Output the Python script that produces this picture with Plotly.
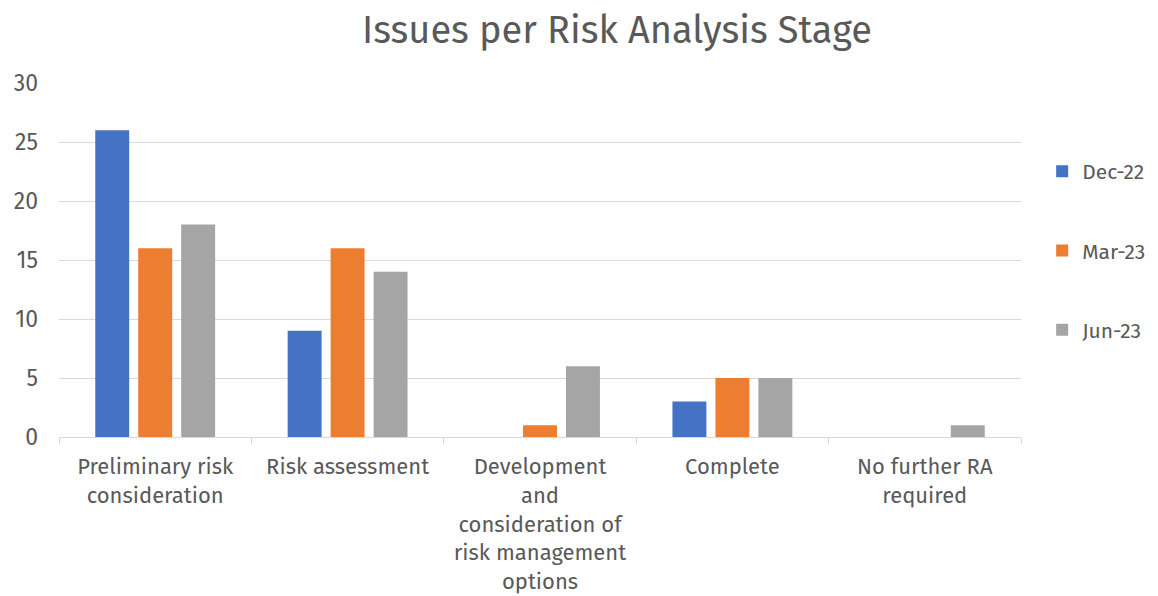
import plotly.graph_objects as go

categories = [
    "Preliminary risk<br>consideration",
    "Risk assessment",
    "Development<br>and<br>consideration of<br>risk management<br>options",
    "Complete",
    "No further RA<br>required",
]
dec22 = [26, 9, 0, 3, 0]
mar23 = [16, 16, 1, 5, 0]
jun23 = [18, 14, 6, 5, 1]
series_names = ["Dec-22", "Mar-23", "Jun-23"]
colors = ["#4472C4", "#ED7D31", "#A5A5A5"]

FONT = "Fira Sans, Open Sans, Noto Sans, sans-serif"
TXT = "#595959"

fig = go.Figure()
for i, (name, vals) in enumerate(zip(series_names, [dec22, mar23, jun23])):
    fig.add_trace(go.Bar(
        x=categories, y=vals, name=name, marker_color=colors[i],
        marker_line_width=0, legendgroup=name,
    ))

fig.update_layout(
    width=1158, height=596,
    paper_bgcolor="white", plot_bgcolor="white",
    margin=dict(l=51, r=145, t=75, b=167, autoexpand=False),
    barmode="group", bargap=0.33, bargroupgap=0.21,
    font=dict(family=FONT, color=TXT, size=22),
    title=dict(text="Issues per Risk Analysis Stage", x=609/1158, xanchor="center",
               y=1 - 22/596, yanchor="middle", font=dict(size=38, color=TXT, family=FONT)),
    legend=dict(x=1.022, xanchor="left", y=1 - 143/596, yref="container", yanchor="top",
                font=dict(size=21, color=TXT), tracegroupgap=49, itemwidth=30),
    showlegend=True,
)
fig.update_xaxes(
    showgrid=False, showline=True, linecolor="#D9D9D9", linewidth=1,
    ticks="outside", tickson="boundaries", ticklen=6, tickcolor="#D9D9D9",
    tickfont=dict(size=22, color=TXT), tickangle=0, ticklabelstandoff=10,
)
fig.update_yaxes(
    range=[0, 30], dtick=5, showgrid=True, gridcolor="#D9D9D9", gridwidth=1,
    zeroline=False, showline=False, ticks="", ticklabelstandoff=20,
    tickfont=dict(size=23, color=TXT),
)

fig.write_html("out.html")
